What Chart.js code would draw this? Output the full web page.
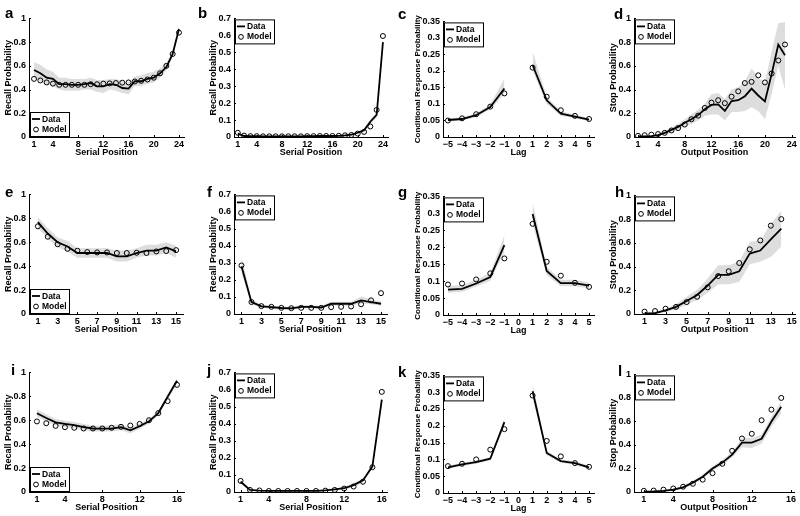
<!DOCTYPE html>
<html>
<head>
<meta charset="utf-8">
<script src="https://cdn.jsdelivr.net/npm/chart.js@4.4.0/dist/chart.umd.min.js"></script>
<style>
  body { margin: 0; background: #fff; }
  #fig { position: relative; width: 800px; height: 516px; overflow: hidden; font-family: "Liberation Sans", Arial, sans-serif; }
  .letter { position: absolute; font-weight: bold; font-size: 15px; line-height: 15px; color: #000; }
</style>
</head>
<body>
<div id="fig"></div>
<script>
// ---- x positions and tick labels ----
const pos24 = [1,2,3,4,5,6,7,8,9,10,11,12,13,14,15,16,17,18,19,20,21,22,23,24];
const pos23 = [1,2,3,4,5,6,7,8,9,10,11,12,13,14,15,16,17,18,19,20,21,22,23];
const pos16 = [1,2,3,4,5,6,7,8,9,10,11,12,13,14,15,16];
const pos15 = [1,2,3,4,5,6,7,8,9,10,11,12,13,14,15];
const pos14 = [1,2,3,4,5,6,7,8,9,10,11,12,13,14];
const lags = [-5,-4,-3,-2,-1,0,1,2,3,4,5];

const xt24 = [1,4,8,12,16,20,24];
const xt15 = [1,3,5,7,9,11,13,15];
const xt16 = [1,4,8,12,16];
const xtLag = [-5,-4,-3,-2,-1,0,1,2,3,4,5];
const yt10 = [0,0.2,0.4,0.6,0.8,1];
const yt07 = [0,0.1,0.2,0.3,0.4,0.5,0.6,0.7];
const yt035 = [0,0.05,0.1,0.15,0.2,0.25,0.3,0.35];

// ---- panel a ----
const dataA  = [0.565,0.537,0.50,0.49,0.446,0.446,0.44,0.44,0.446,0.455,0.427,0.427,0.446,0.44,0.413,0.408,0.47,0.47,0.49,0.50,0.537,0.59,0.70,0.91];
const modelA = [0.49,0.477,0.46,0.45,0.44,0.44,0.44,0.44,0.44,0.445,0.445,0.45,0.452,0.455,0.458,0.46,0.468,0.474,0.485,0.50,0.537,0.60,0.70,0.88];
const hiA = [0.63,0.61,0.57,0.55,0.50,0.50,0.49,0.49,0.49,0.50,0.48,0.48,0.49,0.49,0.47,0.46,0.51,0.52,0.54,0.55,0.58,0.62,0.73,0.93];
const loA = [0.50,0.47,0.44,0.43,0.40,0.39,0.39,0.39,0.40,0.40,0.38,0.37,0.40,0.39,0.37,0.36,0.43,0.43,0.45,0.46,0.50,0.56,0.67,0.89];

// ---- panel b ----
const dataB  = [0.02,0.006,0.005,0.005,0.004,0.004,0.004,0.004,0.004,0.004,0.004,0.005,0.005,0.006,0.006,0.006,0.007,0.01,0.014,0.025,0.04,0.09,0.13,0.56];
const modelB = [0.025,0.008,0.005,0.005,0.004,0.004,0.004,0.004,0.004,0.004,0.004,0.005,0.005,0.006,0.006,0.006,0.007,0.01,0.012,0.02,0.03,0.062,0.16,0.596];
const hiB = [0.028,0.01,0.008,0.008,0.007,0.007,0.007,0.007,0.007,0.007,0.007,0.008,0.008,0.009,0.009,0.009,0.011,0.015,0.02,0.033,0.05,0.105,0.145,0.575];
const loB = [0.012,0.002,0.002,0.002,0.001,0.001,0.001,0.001,0.001,0.001,0.001,0.002,0.002,0.003,0.003,0.003,0.003,0.005,0.008,0.017,0.03,0.075,0.115,0.545];

// ---- panel c ----
const dataC  = [0.0515,0.0545,0.066,0.091,0.147,null,0.218,0.111,0.071,0.062,0.0525];
const modelC = [0.05,0.0565,0.069,0.092,0.132,null,0.21,0.122,0.081,0.064,0.0545];
const hiC = [0.056,0.06,0.072,0.099,0.176,null,0.26,0.122,0.078,0.067,0.057];
const loC = [0.047,0.05,0.06,0.084,0.13,null,0.2,0.10,0.064,0.057,0.048];

// ---- panel d ----
const dataD  = [0.005,0.005,0.008,0.015,0.035,0.06,0.085,0.12,0.15,0.185,0.234,0.27,0.275,0.22,0.303,0.31,0.344,0.408,0.35,0.30,0.53,0.78,0.69];
const modelD = [0.01,0.015,0.02,0.025,0.035,0.055,0.075,0.105,0.15,0.18,0.245,0.29,0.31,0.285,0.34,0.385,0.455,0.465,0.52,0.46,0.535,0.645,0.78];
const hiD = [0.01,0.01,0.015,0.025,0.05,0.08,0.11,0.15,0.19,0.23,0.28,0.36,0.37,0.32,0.40,0.42,0.47,0.58,0.50,0.46,0.72,0.96,0.97];
const loD = [0,0,0,0.005,0.02,0.04,0.06,0.09,0.11,0.14,0.18,0.19,0.19,0.14,0.21,0.21,0.22,0.25,0.22,0.15,0.36,0.60,0.40];

// ---- panel e ----
const dataE  = [0.768,0.673,0.60,0.564,0.51,0.51,0.51,0.51,0.482,0.482,0.51,0.53,0.53,0.556,0.523];
const modelE = [0.733,0.646,0.583,0.545,0.529,0.518,0.515,0.515,0.51,0.51,0.512,0.51,0.523,0.526,0.534];
const hiE = [0.81,0.72,0.64,0.61,0.55,0.55,0.55,0.55,0.53,0.53,0.55,0.58,0.58,0.60,0.57];
const loE = [0.72,0.63,0.56,0.52,0.47,0.47,0.47,0.47,0.44,0.44,0.47,0.49,0.49,0.51,0.47];

// ---- panel f ----
const dataF  = [0.28,0.07,0.045,0.04,0.035,0.033,0.042,0.042,0.038,0.06,0.06,0.06,0.08,0.07,0.06];
const modelF = [0.284,0.07,0.046,0.042,0.036,0.034,0.036,0.036,0.036,0.04,0.042,0.044,0.057,0.08,0.122];
const hiF = [0.34,0.085,0.055,0.05,0.044,0.042,0.052,0.052,0.047,0.072,0.072,0.072,0.102,0.085,0.073];
const loF = [0.24,0.058,0.036,0.031,0.027,0.025,0.033,0.033,0.03,0.048,0.048,0.048,0.062,0.057,0.048];

// ---- panel g ----
const dataG  = [0.075,0.077,0.093,0.112,0.206,null,0.298,0.13,0.094,0.094,0.087];
const modelG = [0.09,0.093,0.105,0.123,0.167,null,0.269,0.157,0.116,0.095,0.083];
const hiG = [0.086,0.088,0.104,0.124,0.235,null,0.333,0.142,0.104,0.104,0.095];
const loG = [0.066,0.068,0.084,0.101,0.185,null,0.268,0.118,0.085,0.085,0.079];

// ---- panel h ----
const dataH  = [0.005,0.008,0.03,0.06,0.11,0.16,0.24,0.33,0.33,0.36,0.51,0.535,0.63,0.72];
const modelH = [0.02,0.025,0.045,0.06,0.10,0.145,0.225,0.32,0.36,0.43,0.545,0.62,0.745,0.80];
const hiH = [0.012,0.018,0.045,0.085,0.145,0.205,0.30,0.41,0.41,0.44,0.61,0.62,0.76,0.87];
const loH = [0,0,0.017,0.038,0.078,0.118,0.18,0.25,0.25,0.27,0.42,0.44,0.48,0.57];

// ---- panel i ----
const dataI  = [0.659,0.619,0.583,0.569,0.559,0.542,0.531,0.53,0.53,0.542,0.515,0.55,0.591,0.66,0.796,0.93];
const modelI = [0.59,0.575,0.553,0.542,0.537,0.531,0.531,0.531,0.537,0.545,0.556,0.569,0.60,0.66,0.76,0.896];
const hiI = [0.69,0.65,0.61,0.595,0.585,0.568,0.556,0.555,0.555,0.568,0.54,0.572,0.612,0.68,0.82,0.95];
const loI = [0.63,0.59,0.555,0.543,0.533,0.516,0.506,0.505,0.505,0.516,0.49,0.528,0.57,0.64,0.772,0.91];

// ---- panel j ----
const dataJ  = [0.06,0.012,0.008,0.007,0.006,0.006,0.006,0.006,0.007,0.01,0.015,0.022,0.04,0.068,0.15,0.54];
const modelJ = [0.065,0.012,0.009,0.006,0.006,0.006,0.006,0.006,0.006,0.008,0.012,0.02,0.032,0.06,0.145,0.586];
const hiJ = [0.068,0.016,0.011,0.01,0.009,0.009,0.009,0.009,0.01,0.014,0.02,0.03,0.052,0.08,0.16,0.56];
const loJ = [0.052,0.008,0.005,0.004,0.003,0.003,0.003,0.003,0.004,0.006,0.01,0.015,0.03,0.056,0.14,0.52];

// ---- panel k ----
const dataK  = [0.076,0.085,0.092,0.102,0.211,null,0.303,0.119,0.095,0.089,0.076];
const modelK = [0.08,0.087,0.10,0.129,0.19,null,0.29,0.155,0.109,0.089,0.078];
const hiK = [0.081,0.09,0.097,0.107,0.222,null,0.325,0.126,0.10,0.094,0.081];
const loK = [0.071,0.08,0.087,0.097,0.198,null,0.282,0.112,0.09,0.084,0.071];

// ---- panel l ----
const dataL  = [0.003,0.005,0.01,0.02,0.04,0.08,0.13,0.20,0.25,0.318,0.42,0.42,0.453,0.60,0.724];
const modelL = [0.01,0.012,0.02,0.03,0.045,0.07,0.105,0.16,0.24,0.35,0.455,0.495,0.61,0.70,0.80];
const hiL = [0.008,0.012,0.018,0.03,0.053,0.095,0.148,0.22,0.272,0.34,0.46,0.46,0.49,0.64,0.77];
const loL = [0,0,0.004,0.011,0.028,0.066,0.112,0.18,0.228,0.296,0.38,0.375,0.41,0.555,0.67];

const SP = 'Serial Position', OP = 'Output Position', LAG = 'Lag';
const RP = 'Recall Probability', SPR = 'Stop Probability', CRP = 'Conditional Response Probability';

// box = plot area [left, top, right, bottom] in page pixels, letter = [left, baseline]
const panels = [
  { id:'a', x:pos24, data:dataA, model:modelA, hi:hiA, lo:loA, xt:xt24, yt:yt10, xr:[0.2,24.8], xTitle:SP, yTitle:RP, leg:'bottom', box:[29,16,184,137], letter:[5,17] },
  { id:'b', x:pos24, data:dataB, model:modelB, hi:hiB, lo:loB, xt:xt24, yt:yt07, xr:[0.4,24.8], xTitle:SP, yTitle:RP, leg:'top', box:[234,16,388,137], letter:[198,17] },
  { id:'c', x:lags, data:dataC, model:modelC, hi:hiC, lo:loC, xt:xtLag, yt:yt035, xr:[-5.35,5.35], xTitle:LAG, yTitle:CRP, leg:'top', box:[443,19,594,137], letter:[398,18], lag:true },
  { id:'d', x:pos23, data:dataD, model:modelD, hi:hiD, lo:loD, xt:xt24, yt:yt10, xr:[0.4,24.5], xTitle:OP, yTitle:SPR, leg:'top', box:[634,16,795,137], letter:[614,18] },
  { id:'e', x:pos15, data:dataE, model:modelE, hi:hiE, lo:loE, xt:xt15, yt:yt10, xr:[0.1,15.7], xTitle:SP, yTitle:RP, leg:'bottom', box:[29,192,183,314], letter:[5,196] },
  { id:'f', x:pos15, data:dataF, model:modelF, hi:hiF, lo:loF, xt:xt15, yt:yt07, xr:[0.25,15.6], xTitle:SP, yTitle:RP, leg:'top', box:[234,192,387,314], letter:[207,196] },
  { id:'g', x:lags, data:dataG, model:modelG, hi:hiG, lo:loG, xt:xtLag, yt:yt035, xr:[-5.35,5.35], xTitle:LAG, yTitle:CRP, leg:'top', box:[443,194,594,315], letter:[398,196], lag:true },
  { id:'h', x:pos14, data:dataH, model:modelH, hi:hiH, lo:loH, xt:xt15, yt:yt10, xr:[0,15.3], xTitle:OP, yTitle:SPR, leg:'top', box:[634,193,795,314], letter:[615,196] },
  { id:'i', x:pos16, data:dataI, model:modelI, hi:hiI, lo:loI, xt:xt16, yt:yt10, xr:[0.15,16.75], xTitle:SP, yTitle:RP, leg:'bottom', box:[29,370,184,492], letter:[11,374] },
  { id:'j', x:pos16, data:dataJ, model:modelJ, hi:hiJ, lo:loJ, xt:xt16, yt:yt07, xr:[0.3,16.55], xTitle:SP, yTitle:RP, leg:'top', box:[234,370,387,492], letter:[207,374] },
  { id:'k', x:lags, data:dataK, model:modelK, hi:hiK, lo:loK, xt:xtLag, yt:yt035, xr:[-5.35,5.35], xTitle:LAG, yTitle:CRP, leg:'top', box:[443,373,594,493], letter:[398,376], lag:true },
  { id:'l', x:pos15, data:dataL, model:modelL, hi:hiL, lo:loL, xt:xt16, yt:yt10, xr:[0,16.3], xTitle:OP, yTitle:SPR, leg:'top', box:[634,372,794,492], letter:[618,375] }
];

const FONT = '"Liberation Sans", Arial, sans-serif';
const BAND = 'rgb(221,221,221)';

// MATLAB-like inward tick marks
const innerTicks = {
  id: 'innerTicks',
  afterDatasetsDraw(chart) {
    const { ctx, scales: { x, y } } = chart;
    ctx.save();
    ctx.strokeStyle = '#000';
    ctx.lineWidth = 1;
    x.ticks.forEach(t => {
      const px = Math.round(x.getPixelForValue(t.value)) + 0.5;
      ctx.beginPath(); ctx.moveTo(px, x.top); ctx.lineTo(px, x.top - 2); ctx.stroke();
    });
    y.ticks.forEach(t => {
      const py = Math.round(y.getPixelForValue(t.value)) + 0.5;
      ctx.beginPath(); ctx.moveTo(y.right, py); ctx.lineTo(y.right + 2, py); ctx.stroke();
    });
    ctx.restore();
  }
};

// boxed legend inside the plot area
const boxLegend = {
  id: 'boxLegend',
  afterDraw(chart, args, opts) {
    const { ctx, chartArea: ca } = chart;
    const w = 39, h = 24;
    const x = ca.left + 1;
    const y = opts.where === 'bottom' ? ca.bottom - h - 1 : ca.top + 1;
    const ds = chart.data.datasets;
    ctx.save();
    ctx.fillStyle = '#fff';
    ctx.fillRect(x, y, w, h);
    ctx.strokeStyle = '#000';
    ctx.lineWidth = 1;
    ctx.strokeRect(x + 0.5, y + 0.5, w, h);
    ctx.lineWidth = 1.8;
    ctx.beginPath(); ctx.moveTo(x + 2, y + 7); ctx.lineTo(x + 10, y + 7); ctx.stroke();
    ctx.lineWidth = 1;
    ctx.beginPath(); ctx.arc(x + 6, y + 17.5, 2.4, 0, Math.PI * 2); ctx.stroke();
    ctx.fillStyle = '#000';
    ctx.font = 'bold 8.5px ' + FONT;
    ctx.textBaseline = 'middle';
    ctx.fillText(ds[1].label, x + 12, y + 7.5);
    ctx.fillText(ds[0].label, x + 12, y + 17.5);
    ctx.restore();
  }
};

function fmt(v) {
  const s = String(+v.toFixed(2));
  return v < 0 ? '\u2212' + s.slice(1) : s;
}

const fig = document.getElementById('fig');

function makePanel(p) {
  const [l, t, r, b] = p.box;
  const yw = p.lag ? 32 : 30;
  const xh = 22, padTop = 6, padRight = 6;
  const w = yw + (r - l) + padRight, h = padTop + (b - t) + xh;
  const canvas = document.createElement('canvas');
  canvas.width = w; canvas.height = h;
  canvas.style.cssText = `position:absolute;left:${l - yw}px;top:${t - padTop}px;width:${w}px;height:${h}px`;
  fig.appendChild(canvas);

  const letter = document.createElement('div');
  letter.className = 'letter';
  letter.textContent = p.id;
  letter.style.left = p.letter[0] + 'px';
  letter.style.top = (p.letter[1] - 12) + 'px';
  fig.appendChild(letter);

  const pts = ys => p.x.map((x, i) => ({ x, y: ys[i] }));
  const datasets = [
    { label: 'Model', data: pts(p.model), showLine: false, pointRadius: 2.5, pointBorderWidth: 1,
      pointBorderColor: '#000', pointBackgroundColor: 'rgba(0,0,0,0)' },
    { label: 'Data', data: pts(p.data), borderColor: '#000', borderWidth: 1.8, pointRadius: 0,
      spanGaps: false, fill: false, tension: 0 }
  ];
  // shaded error band, split where there are gaps
  const runs = [];
  let run = [];
  p.x.forEach((x, i) => {
    if (p.hi[i] == null) { if (run.length) runs.push(run); run = []; }
    else run.push(i);
  });
  if (run.length) runs.push(run);
  runs.forEach(idx => {
    const n = datasets.length;
    datasets.push({ label: 'hi', data: idx.map(i => ({ x: p.x[i], y: p.hi[i] })), borderWidth: 0,
      pointRadius: 0, backgroundColor: BAND, fill: n + 1 });
    datasets.push({ label: 'lo', data: idx.map(i => ({ x: p.x[i], y: p.lo[i] })), borderWidth: 0,
      pointRadius: 0, backgroundColor: BAND, fill: false });
  });

  const tickFont = { family: FONT, size: 9, weight: 'bold' };
  new Chart(canvas, {
    type: 'line',
    data: { datasets },
    plugins: [innerTicks, boxLegend],
    options: {
      responsive: false,
      animation: false,
      events: [],
      layout: { padding: { top: padTop, right: padRight, left: 0, bottom: 0 } },
      plugins: {
        legend: { display: false },
        tooltip: { enabled: false },
        filler: { drawTime: 'beforeDatasetsDraw' },
        boxLegend: { where: p.leg }
      },
      scales: {
        x: {
          type: 'linear', min: p.xr[0], max: p.xr[1],
          afterBuildTicks: s => { s.ticks = p.xt.map(v => ({ value: v })); },
          afterFit: s => { s.height = xh; },
          grid: { display: false, drawTicks: false },
          border: { display: true, color: '#000', width: 1 },
          ticks: { font: tickFont, color: '#000', padding: 2, maxRotation: 0, autoSkip: false, callback: fmt },
          title: { display: true, text: p.xTitle, color: '#000', font: { family: FONT, size: 9, weight: 'bold' },
            padding: { top: 0, bottom: 1 } }
        },
        y: {
          type: 'linear', min: 0, max: p.yt[p.yt.length - 1],
          afterBuildTicks: s => { s.ticks = p.yt.map(v => ({ value: v })); },
          afterFit: s => { s.width = yw; },
          grid: { display: false, drawTicks: false },
          border: { display: true, color: '#000', width: 1 },
          ticks: { font: tickFont, color: '#000', padding: 3, autoSkip: false, callback: fmt },
          title: { display: true, text: p.yTitle, color: '#000',
            font: { family: FONT, size: p.lag ? 8 : 9, weight: 'bold' },
            padding: { top: p.lag ? 1.5 : 4, bottom: 0 } }
        }
      }
    }
  });
}

panels.forEach(makePanel);
</script>
</body>
</html>
